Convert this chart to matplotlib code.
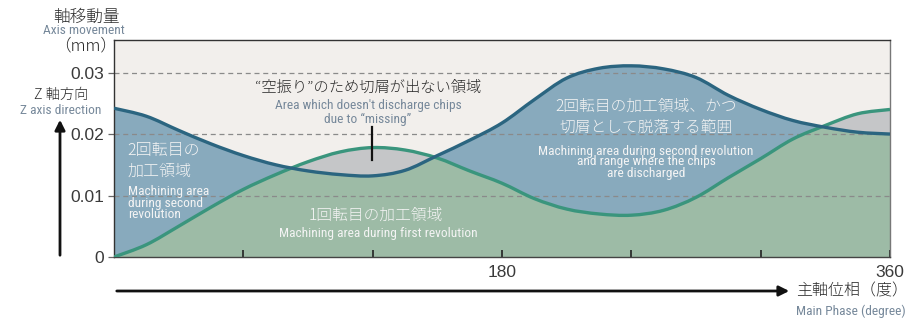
import matplotlib
matplotlib.use("Agg")
import matplotlib.pyplot as plt
from matplotlib import font_manager as fm
from matplotlib.path import Path
from matplotlib.patches import PathPatch, FancyArrowPatch
import numpy as np

plt.rcParams['font.family'] = ['Noto Sans CJK JP', 'DejaVu Sans']

# ---- data ----
phase = [0, 15, 30, 45, 60, 75, 90, 105, 120, 135, 150, 165, 180,
         195, 210, 225, 240, 255, 270, 285, 300, 315, 330, 345, 360]
first_rev = [0.0, 0.0020, 0.0050, 0.0081, 0.0110, 0.0134, 0.0155, 0.0171, 0.0178,
             0.0174, 0.0161, 0.0140, 0.0120, 0.0095, 0.0078, 0.0070, 0.0068,
             0.0076, 0.0097, 0.0129, 0.0160, 0.0192, 0.0214, 0.0233, 0.0240]
second_rev = [0.0242, 0.0229, 0.0206, 0.0184, 0.0165, 0.0150, 0.0140, 0.0134, 0.0132,
              0.0141, 0.0165, 0.0190, 0.0218, 0.0256, 0.0291, 0.0307, 0.0311,
              0.0306, 0.0292, 0.0263, 0.0240, 0.0222, 0.0211, 0.0203, 0.0200]
y_ticks = [0, 0.01, 0.02, 0.03]
y_ticklabels = ["0", "0.01", "0.02", "0.03"]
x_ticks = [60, 120, 180, 240, 300, 360]
x_ticklabels = ["", "", "180", "", "", "360"]

# ---- condensed font detection ----
names = {f.name for f in fm.fontManager.ttflist}
en_family = None
en_stretch = 'normal'
en_scale = 1.0
for cand in ['Roboto Condensed', 'Liberation Sans Narrow', 'Open Sans Condensed',
             'DejaVu Sans Condensed', 'Arial Narrow', 'Noto Sans Condensed']:
    if cand in names:
        en_family = cand
        break
if en_family is None:
    cond = [f for f in fm.fontManager.ttflist
            if f.name in ('DejaVu Sans', 'Noto Sans', 'Roboto', 'Open Sans')
            and str(f.stretch) in ('condensed', 'semi-condensed', '75', '87', 'semi_condensed')]
    if cond:
        en_family = cond[0].name
        en_stretch = 'condensed'
    else:
        en_family = 'Liberation Sans'
        en_scale = 0.85
en_scale *= 0.92

W, H = 909, 319
fig = plt.figure(figsize=(W / 100, H / 100), dpi=100)
fig.patch.set_facecolor('white')


def fx(px):
    return px / W


def fy(py):
    return 1 - py / H


ax = fig.add_axes([fx(114), fy(257), fx(890) - fx(114), fy(40) - fy(257)])
ax.set_facecolor('#f2efec')
ax.set_xlim(0, 360)
ax.set_ylim(0, 0.0353)


def smooth_verts(x, y):
    pts = np.column_stack([x, y]).astype(float)
    n = len(pts)
    verts = []
    codes = []
    for i in range(n - 1):
        p0 = pts[max(i - 1, 0)]
        p1 = pts[i]
        p2 = pts[i + 1]
        p3 = pts[min(i + 2, n - 1)]
        c1 = p1 + (p2 - p0) / 6.0
        c2 = p2 - (p3 - p1) / 6.0
        verts += [c1, c2, p2]
        codes += [Path.CURVE4] * 3
    return pts, verts, codes


def line_path(x, y):
    pts, verts, codes = smooth_verts(x, y)
    return Path([pts[0]] + verts, [Path.MOVETO] + codes)


def area_path(x, y):
    pts, verts, codes = smooth_verts(x, y)
    v = [(x[0], 0), pts[0]] + verts + [(x[-1], 0), (x[0], 0)]
    c = [Path.MOVETO, Path.LINETO] + codes + [Path.LINETO, Path.CLOSEPOLY]
    return Path(v, c)


p = np.array(phase, dtype=float)
f1 = np.array(first_rev)
f2 = np.array(second_rev)

gray_patch = PathPatch(area_path(p, f1), facecolor='#c5c6c8', edgecolor='none', zorder=1)
ax.add_patch(gray_patch)
blue_patch = PathPatch(area_path(p, f2), facecolor='#88aabd', edgecolor='none', zorder=1.1)
ax.add_patch(blue_patch)
green_patch = PathPatch(area_path(p, f1), facecolor='#9dbba6', edgecolor='none', zorder=1.2)
ax.add_patch(green_patch)
green_patch.set_clip_path(blue_patch)

for yv in y_ticks[1:]:
    ax.axhline(yv, color='#8a8a8a', lw=0.9, ls=(0, (4, 3)), zorder=2)

ax.add_patch(PathPatch(line_path(p, f1), facecolor='none', edgecolor='#3a957d', lw=2.4, zorder=4))
ax.add_patch(PathPatch(line_path(p, f2), facecolor='none', edgecolor='#2b6580', lw=2.4, zorder=5))

ax.set_yticks(y_ticks)
ax.set_yticklabels(y_ticklabels)
ax.set_xticks(x_ticks)
ax.set_xticklabels(x_ticklabels)
ax.tick_params(axis='y', direction='out', length=4, width=0.9, color='#666666',
               labelsize=12.5, labelcolor='#3a3a3a', pad=3)
ax.tick_params(axis='x', direction='in', length=5, width=1.2, color='#222222',
               labelsize=12.5, labelcolor='#3a3a3a', pad=6)
for lab in ax.get_xticklabels() + ax.get_yticklabels():
    lab.set_fontfamily(['Liberation Sans', 'DejaVu Sans'])

for s in ['left', 'top']:
    ax.spines[s].set_color('#333333')
    ax.spines[s].set_linewidth(1.0)
ax.spines['bottom'].set_color('#444444')
ax.spines['bottom'].set_linewidth(1.0)
ax.spines['right'].set_color('#777777')
ax.spines['right'].set_linewidth(1.0)

dark = '#2a2a2a'
greyblue = '#76889a'
white = '#f4f4f4'
jp = ['Noto Sans CJK JP', 'DejaVu Sans']


def en_text(x, y, s, size, color, **kw):
    return fig.text(fx(x), fy(y), s, fontsize=size * en_scale, color=color,
                    family=[en_family, 'DejaVu Sans'], fontstretch=en_stretch, **kw)


def jp_text(x, y, s, size, color, **kw):
    return fig.text(fx(x), fy(y), s, fontsize=size, color=color, family=jp,
                    fontweight='light', **kw)


# axis titles
jp_text(86, 17, "軸移動量", 12, dark, ha='center', va='center')
en_text(84, 31, "Axis movement", 10.5, greyblue, ha='center', va='center')
jp_text(86, 46, "（mm）", 12, dark, ha='center', va='center')
jp_text(61, 95, "Z 軸方向", 10.3, dark, ha='center', va='center')
en_text(61, 110, "Z axis direction", 10.5, greyblue, ha='center', va='center')

# axis arrows
fig.add_artist(FancyArrowPatch(
    (fx(60), fy(258)), (fx(60), fy(117)), transform=fig.transFigure,
    arrowstyle='-|>,head_length=4,head_width=2', color='#111111', lw=2.0,
    mutation_scale=1.5))
fig.add_artist(FancyArrowPatch(
    (fx(114), fy(291)), (fx(792), fy(291)), transform=fig.transFigure,
    arrowstyle='-|>,head_length=4,head_width=2', color='#111111', lw=2.0,
    mutation_scale=1.5))

jp_text(852, 291, "主軸位相（度）", 11.5, dark, ha='center', va='center')
en_text(906, 311, "Main Phase (degree)", 10.5, greyblue, ha='right', va='center')

# annotations inside
jp_text(368, 88, "“空振り”のため切屑が出ない領域", 11, dark, ha='center', va='center')
en_text(368, 106, "Area which doesn't discharge chips", 10.5, greyblue, ha='center', va='center')
en_text(368, 119, "due to “missing”", 10.5, greyblue, ha='center', va='center')
fig.add_artist(plt.Line2D([fx(372), fx(372)], [fy(127), fy(160)], transform=fig.transFigure,
                          color='#111111', lw=1.6))

jp_text(127, 151, "2回転目の", 11.5, white, ha='left', va='center')
jp_text(127, 171, "加工領域", 11.5, white, ha='left', va='center')
en_text(128, 203, "Machining area\nduring second\nrevolution", 10.5, white, ha='left', va='center',
        linespacing=0.8)

jp_text(646, 106, "2回転目の加工領域、かつ", 11.3, white, ha='center', va='center')
jp_text(646, 127, "切屑として脱落する範囲", 11.3, white, ha='center', va='center')
en_text(646, 162, "Machining area during second revolution\nand range where the chips\nare discharged",
        10.5, white, ha='center', va='center', linespacing=0.8)

jp_text(376, 215, "1回転目の加工領域", 11.3, white, ha='center', va='center')
en_text(378, 233, "Machining area during first revolution", 10.5, white, ha='center', va='center')

fig.savefig("out.png", dpi=100)
